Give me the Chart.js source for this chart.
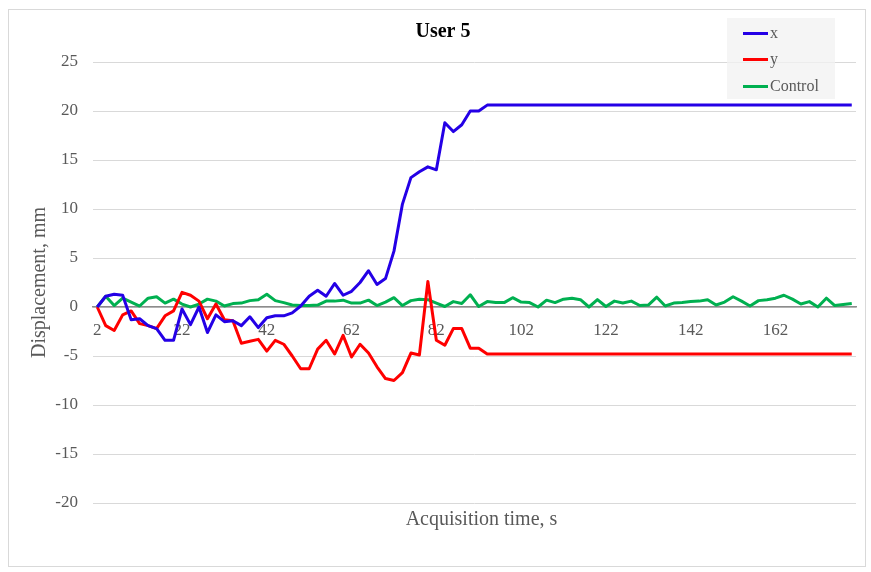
<!DOCTYPE html>
<html>
<head>
<meta charset="utf-8">
<script src="https://cdn.jsdelivr.net/npm/chart.js@4/dist/chart.umd.min.js"></script>
<style>
  html, body { margin: 0; padding: 0; background: #ffffff; }
  #wrap { position: relative; width: 871px; height: 572px; }
  #c { position: absolute; left: 0; top: 0; }
  #frame { position: absolute; left: 8px; top: 9px; width: 858px; height: 558px; box-sizing: border-box; border: 1px solid #d9d9d9; pointer-events: none; }
  #legend { position: absolute; left: 727px; top: 18px; width: 108px; height: 81px; background: rgba(242,242,242,0.75); font-family: 'Liberation Serif', serif; font-size: 16px; color: #595959; }
  .row { position: absolute; left: 0; height: 20px; width: 108px; }
  .sw { position: absolute; left: 16px; top: 9px; width: 25px; height: 3px; }
  .lb { position: absolute; left: 43px; top: 0; line-height: 20px; }
</style>
</head>
<body>
<div id="wrap">
  <canvas id="c" width="871" height="572"></canvas>
  <div id="frame"></div>
  <div id="legend"></div>
</div>
<script>
// ---- data ----
const categories = [2,4,6,8,10,12,14,16,18,20,22,24,26,28,30,32,34,36,38,40,42,44,46,48,50,52,54,56,58,60,62,64,66,68,70,72,74,76,78,80,82,84,86,88,90,92,94,96,98,100,102,104,106,108,110,112,114,116,118,120,122,124,126,128,130,132,134,136,138,140,142,144,146,148,150,152,154,156,158,160,162,164,166,168,170,172,174,176,178,180];

const tickLabels = ['2','22','42','62','82','102','122','142','162'];

const seriesNames = ['x', 'y', 'Control'];

const xValues = [0,1.1,1.3,1.2,-1.3,-1.2,-1.9,-2.2,-3.4,-3.4,
  -0.2,-1.8,0.0,-2.6,-0.8,-1.5,-1.4,-1.9,-1.0,-2.1,
  -1.1,-0.9,-0.9,-0.6,0.1,1.1,1.7,1.1,2.4,1.2,
  1.6,2.5,3.7,2.3,2.9,5.7,10.5,13.2,13.8,14.3,
  14.0,18.8,17.9,18.6,20.0,20.0,20.6,20.6,20.6,20.6,
  20.6,20.6,20.6,20.6,20.6,20.6,20.6,20.6,20.6,20.6,
  20.6,20.6,20.6,20.6,20.6,20.6,20.6,20.6,20.6,20.6,
  20.6,20.6,20.6,20.6,20.6,20.6,20.6,20.6,20.6,20.6,
  20.6,20.6,20.6,20.6,20.6,20.6,20.6,20.6,20.6,20.6];

const yValues = [0,-1.9,-2.4,-0.8,-0.4,-1.7,-1.9,-2.2,-0.9,-0.4,
  1.5,1.2,0.6,-1.2,0.3,-1.3,-1.4,-3.7,-3.5,-3.3,
  -4.5,-3.4,-3.8,-5.0,-6.3,-6.3,-4.3,-3.4,-4.8,-2.9,
  -5.1,-3.8,-4.7,-6.1,-7.3,-7.5,-6.7,-4.7,-4.9,2.6,
  -3.4,-3.9,-2.2,-2.2,-4.2,-4.2,-4.8,-4.8,-4.8,-4.8,
  -4.8,-4.8,-4.8,-4.8,-4.8,-4.8,-4.8,-4.8,-4.8,-4.8,
  -4.8,-4.8,-4.8,-4.8,-4.8,-4.8,-4.8,-4.8,-4.8,-4.8,
  -4.8,-4.8,-4.8,-4.8,-4.8,-4.8,-4.8,-4.8,-4.8,-4.8,
  -4.8,-4.8,-4.8,-4.8,-4.8,-4.8,-4.8,-4.8,-4.8,-4.8];

const controlValues = [0,1.1,0.15,0.9,0.5,0.1,0.9,1.05,0.4,0.8,
  0.3,0.0,0.3,0.8,0.6,0.1,0.35,0.4,0.65,0.75,
  1.3,0.65,0.45,0.2,0.15,0.15,0.2,0.6,0.6,0.7,
  0.4,0.4,0.7,0.15,0.5,0.95,0.15,0.65,0.8,0.75,
  0.4,0.05,0.55,0.35,1.25,0.05,0.55,0.45,0.45,0.95,
  0.5,0.45,0.0,0.7,0.45,0.8,0.9,0.75,0.0,0.75,
  0.05,0.6,0.4,0.6,0.15,0.2,1.0,0.1,0.4,0.45,
  0.55,0.6,0.75,0.2,0.5,1.05,0.6,0.1,0.65,0.75,
  0.9,1.2,0.8,0.3,0.55,0.0,0.9,0.15,0.25,0.35];

const yTicks = [25,20,15,10,5,0,-5,-10,-15,-20];

const seriesColors = ['#2400E6', '#FF0000', '#00B050'];

// ---- chart ----
const FONT = "'Liberation Serif', 'Times New Roman', serif";
const seriesData = [xValues, yValues, controlValues];

const datasets = seriesNames.map((name, k) => ({
  label: name,
  data: seriesData[k],
  borderColor: seriesColors[k],
  backgroundColor: seriesColors[k],
  borderWidth: 3,
  pointRadius: 0,
  tension: 0,
  fill: false,
  borderJoinStyle: 'round'
}));

// nudge the chart title and the x-axis title to the reference's centres
const nudgePlugin = {
  id: 'nudge',
  afterLayout(chart) {
    if (chart.titleBlock) { chart.titleBlock.left += 15; chart.titleBlock.right += 15; }
    const x2 = chart.scales.x2;
    if (x2) { x2.left += 7; x2.right += 7; }
  }
};

new Chart(document.getElementById('c'), {
  type: 'line',
  data: { labels: categories, datasets: datasets },
  plugins: [nudgePlugin],
  options: {
    responsive: false,
    animation: false,
    devicePixelRatio: 1,
    layout: { padding: { top: 10, right: 15, bottom: 0, left: 0 } },
    plugins: {
      legend: { display: false },
      tooltip: { enabled: false },
      title: {
        display: true,
        text: 'User 5',
        color: '#000000',
        font: { family: FONT, size: 20, weight: 'bold' },
        padding: { top: 10, bottom: 18 }
      }
    },
    scales: {
      x: {
        type: 'category',
        position: { y: 0 },
        offset: true,
        grid: { display: false, drawTicks: false },
        border: { display: true, color: '#8c8c8c', width: 1.5 },
        ticks: {
          autoSkip: false,
          maxRotation: 0,
          minRotation: 0,
          padding: 13,
          color: '#595959',
          font: { family: FONT, size: 17 },
          callback: function(value, index) {
            const lab = String(categories[index]);
            return tickLabels.includes(lab) ? lab : '';
          }
        }
      },
      x2: {
        type: 'linear',
        position: 'bottom',
        min: 0, max: 1,
        grid: { display: false, drawTicks: false },
        border: { display: false },
        ticks: { display: false },
        title: {
          display: true,
          text: 'Acquisition time, s',
          color: '#595959',
          font: { family: FONT, size: 20 },
          padding: { top: 5, bottom: 40 }
        }
      },
      y: {
        type: 'linear',
        min: -20,
        max: 25,
        afterBuildTicks: function(scale) { scale.ticks = yTicks.map(v => ({ value: v })); },
        afterFit: function(scale) { scale.width = 93; },
        grid: { color: '#d9d9d9', lineWidth: 1, drawTicks: false },
        border: { display: false },
        ticks: {
          padding: 15,
          color: '#595959',
          font: { family: FONT, size: 17 }
        },
        title: {
          display: true,
          text: 'Displacement, mm',
          color: '#595959',
          font: { family: FONT, size: 20 },
          padding: { top: 28, bottom: 0 }
        }
      }
    }
  }
});

// legend (HTML, built from the series names/colours)
const legend = document.getElementById('legend');
const rowTops = [5, 31, 58];
seriesNames.forEach((name, k) => {
  const row = document.createElement('div');
  row.className = 'row';
  row.style.top = rowTops[k] + 'px';
  const sw = document.createElement('div');
  sw.className = 'sw';
  sw.style.background = seriesColors[k];
  const lb = document.createElement('div');
  lb.className = 'lb';
  lb.textContent = name;
  row.appendChild(sw);
  row.appendChild(lb);
  legend.appendChild(row);
});
</script>
</body>
</html>
